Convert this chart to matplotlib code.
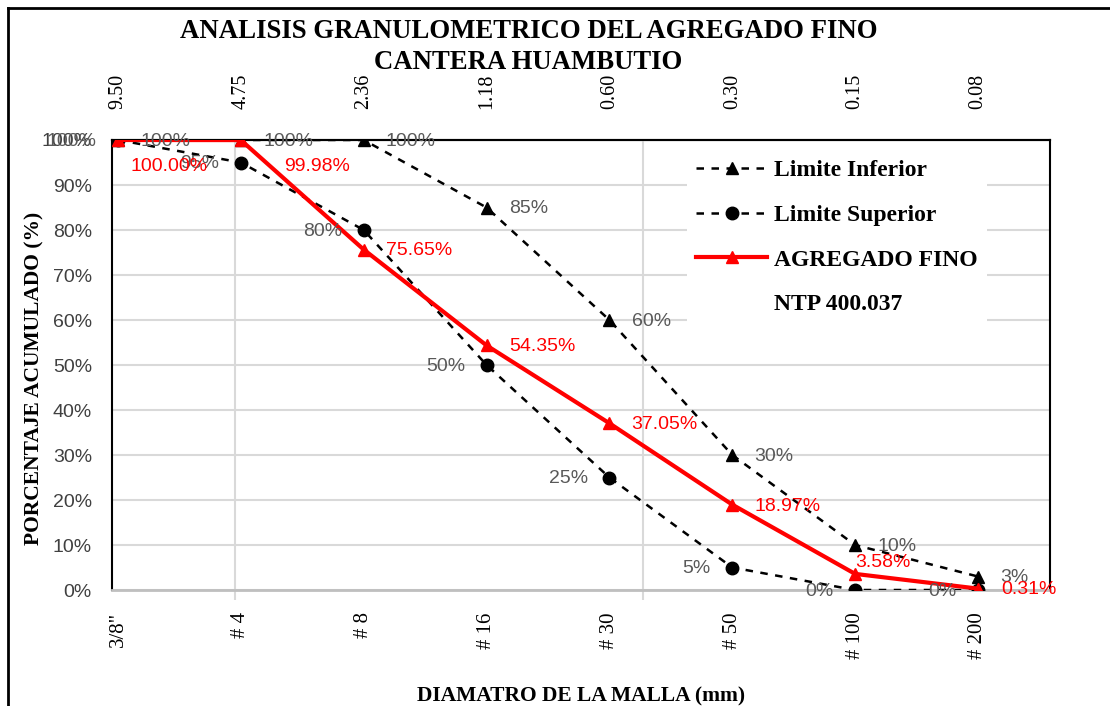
import matplotlib.pyplot as plt
from matplotlib.lines import Line2D

# datos de la curva granulometrica
mallas = ['3/8"', '# 4', '# 8', '# 16', '# 30', '# 50', '# 100', '# 200']
aberturas = ['9.50', '4.75', '2.36', '1.18', '0.60', '0.30', '0.15', '0.08']
lim_inferior = [100, 100, 100, 85, 60, 30, 10, 3]
lim_superior = [100, 95, 80, 50, 25, 5, 0, 0]
agregado_fino = [100.00, 99.98, 75.65, 54.35, 37.05, 18.97, 3.58, 0.31]

serif = 'Liberation Serif'
sans = 'Liberation Sans'

fig = plt.figure(figsize=(11.1, 7.06), dpi=100)
ax = fig.add_axes([0.1009, 0.1643, 0.8450, 0.6374])

x = list(range(len(mallas)))

h1, = ax.plot(x, lim_inferior, color='black', lw=1.8, ls=(0, (3, 3)),
              marker='^', ms=8, label='Limite Inferior', zorder=3)
h2, = ax.plot(x, lim_superior, color='black', lw=1.8, ls=(0, (3, 3)),
              marker='o', ms=9, label='Limite Superior', zorder=3)
h3, = ax.plot(x, agregado_fino, color='#FF0000', lw=3,
              marker='^', ms=9, label='AGREGADO FINO', zorder=4)
h4 = Line2D([], [], color='none', label='NTP 400.037')

# etiquetas de datos
for i in x:
    ax.annotate('%d%%' % lim_inferior[i], (i, lim_inferior[i]), xytext=(16, -1),
                textcoords='offset points', ha='left', va='center',
                fontsize=14, family=sans, color='#595959', zorder=5)
    ax.annotate('%d%%' % lim_superior[i], (i, lim_superior[i]), xytext=(-15.5, -1),
                textcoords='offset points', ha='right', va='center',
                fontsize=14, family=sans, color='#595959', zorder=5,
                annotation_clip=False)
off_af = [(9, -19), (31, -19), (16, -1), (16, -1), (16, -1), (16, -1), (0, 8), (17, -1)]
for i in x:
    ax.annotate('%.2f%%' % agregado_fino[i], (i, agregado_fino[i]), xytext=off_af[i],
                textcoords='offset points', ha='left', va='center',
                fontsize=14, family=sans, color='#FF0000', zorder=5)

ax.set_xlim(-0.049, 7.586)
ax.set_ylim(0, 100)
ax.set_yticks(range(0, 101, 10))
ax.set_yticklabels(['%d%%' % v for v in range(0, 101, 10)], family=sans,
                   fontsize=14, color='#404040')
ax.tick_params(axis='y', length=0, pad=14.5)
ax.grid(axis='y', color='#D9D9D9', lw=1.5, zorder=0)

ax.set_xticks(x)
ax.set_xticklabels(mallas, rotation=90, family=serif, fontsize=15)
ax.tick_params(axis='x', which='major', length=0, pad=16)
ax.set_xticks([0.95, 4.27], minor=True)
ax.tick_params(axis='x', which='minor', length=7, width=1.5, color='#D9D9D9')
ax.grid(axis='x', which='minor', color='#D9D9D9', lw=1.5, zorder=0)

sec = ax.secondary_xaxis('top')
sec.set_xticks(x)
sec.set_xticklabels(aberturas, rotation=90, family=serif, fontsize=14.5)
sec.tick_params(length=0, pad=22)

for s in ['left', 'right', 'top']:
    ax.spines[s].set_color('black')
    ax.spines[s].set_linewidth(1.5)
ax.spines['bottom'].set_color('#BFBFBF')
ax.spines['bottom'].set_linewidth(2)
sec.spines['top'].set_linewidth(1.5)

ax.set_xlabel('DIAMATRO DE LA MALLA (mm)', family=serif, weight='bold', fontsize=15.5)
ax.xaxis.set_label_coords(0.5, -0.215)
ax.set_ylabel('PORCENTAJE ACUMULADO (%)', family=serif, weight='bold', fontsize=15.5)
ax.yaxis.set_label_coords(-0.072, 0.47)

fig.text(0.476, 0.973, 'ANALISIS GRANULOMETRICO DEL AGREGADO FINO\nCANTERA HUAMBUTIO',
         ha='center', va='top', family=serif, weight='bold', fontsize=19.3,
         linespacing=1.32)

leg = ax.legend(handles=[h1, h2, h3, h4], loc='upper left',
                bbox_to_anchor=(0.613, 0.977), borderaxespad=0,
                prop={'family': serif, 'weight': 'bold', 'size': 17},
                handlelength=3, handletextpad=0.3, labelspacing=0.98,
                frameon=True, fancybox=False, framealpha=1,
                facecolor='white', edgecolor='none')
leg.set_zorder(6)

# borde del grafico
fig.add_artist(Line2D([0.007, 0.007], [0, 0.989], color='black', lw=2))
fig.add_artist(Line2D([0.007, 1.0], [0.989, 0.989], color='black', lw=2))

fig.savefig('out.png', dpi=100)
